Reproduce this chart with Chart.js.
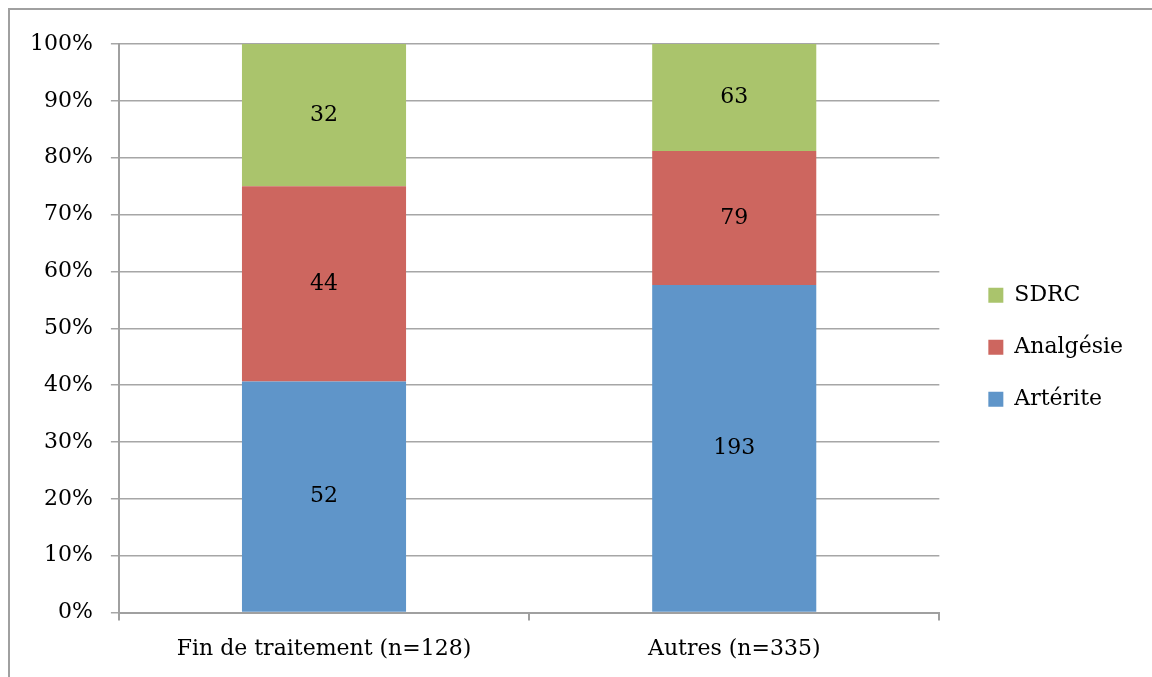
<!DOCTYPE html>
<html>
<head>
<meta charset="utf-8">
<script src="https://cdn.jsdelivr.net/npm/chart.js@4.4.1/dist/chart.umd.min.js"></script>
<style>
  html, body { margin: 0; padding: 0; background: #ffffff; overflow: hidden; }
  #wrap { position: relative; width: 1152px; height: 677px; }
  #frame { position: absolute; left: 8px; top: 8px; width: 1200px; height: 700px;
           border-left: 2px solid #a0a0a0; border-top: 2px solid #a0a0a0; box-sizing: border-box; pointer-events: none; }
  canvas { position: absolute; left: 0; top: 0; }
</style>
</head>
<body>
<div id="wrap">
  <canvas id="c" width="1152" height="677"></canvas>
  <div id="frame"></div>
</div>
<script>
const categories = ['Fin de traitement (n=128)', 'Autres (n=335)'];
const seriesNames = ['Artérite', 'Analgésie', 'SDRC'];
const arterite = [52, 193];
const analgesie = [44, 79];
const sdrc = [32, 63];
const yTickLabels = ['0%', '10%', '20%', '30%', '40%', '50%', '60%', '70%', '80%', '90%', '100%'];
const colors = ['#5f95c9', '#cd665f', '#aac46c'];

const counts = [arterite, analgesie, sdrc];
const totals = categories.map((_, i) => counts.reduce((s, arr) => s + arr[i], 0));
const pct = arr => arr.map((v, i) => v / totals[i] * 100);

const FONT = "'DejaVu Serif', serif";

const valueLabels = {
  id: 'valueLabels',
  afterDatasetsDraw(chart) {
    const ctx = chart.ctx;
    ctx.save();
    ctx.font = '22px ' + FONT;
    ctx.fillStyle = '#000000';
    ctx.textAlign = 'center';
    ctx.textBaseline = 'middle';
    chart.data.datasets.forEach((ds, di) => {
      const meta = chart.getDatasetMeta(di);
      meta.data.forEach((el, i) => {
        const y = (el.y + el.base) / 2;
        ctx.fillText(String(ds.counts[i]), el.x, y);
      });
    });
    ctx.restore();
  }
};

new Chart(document.getElementById('c'), {
  type: 'bar',
  data: {
    labels: categories,
    datasets: seriesNames.map((name, k) => ({
      label: name,
      data: pct(counts[k]),
      counts: counts[k],
      backgroundColor: colors[k],
      borderWidth: 0,
      categoryPercentage: 0.8,
      barPercentage: 0.5
    }))
  },
  options: {
    responsive: false,
    animation: false,
    devicePixelRatio: 1,
    layout: { padding: { top: 44, bottom: 0, left: 12, right: 19 } },
    plugins: {
      tooltip: { enabled: false },
      legend: {
        position: 'right',
        fullSize: false,
        reverse: true,
        title: { display: true, text: '', padding: { top: 38, bottom: 0 }, font: { size: 1, lineHeight: 0 } },
        labels: {
          boxWidth: 15,
          boxHeight: 15,
          padding: 30,
          color: '#000000',
          font: { family: FONT, size: 22 }
        }
      }
    },
    scales: {
      x: {
        stacked: true,
        offset: true,
        grid: { offset: true, drawOnChartArea: false, color: '#a0a0a0', lineWidth: 2, tickLength: 8 },
        border: { color: '#a0a0a0', width: 2 },
        ticks: { color: '#000000', font: { family: FONT, size: 22 }, padding: 15, maxRotation: 0 }
      },
      y: {
        stacked: true,
        min: 0,
        max: 100,
        grid: { color: '#a6a6a6', lineWidth: 1.5, tickLength: 8 },
        border: { color: '#a0a0a0', width: 2 },
        ticks: {
          stepSize: 10,
          color: '#000000',
          padding: 18,
          font: { family: FONT, size: 22 },
          callback: (v) => yTickLabels[Math.round(v / 10)]
        }
      },
      spacer: {
        type: 'linear',
        position: 'right',
        display: true,
        grid: { display: false },
        border: { display: false },
        ticks: { display: false },
        afterFit: (s) => { s.width = 19; }
      }
    }
  },
  plugins: [valueLabels]
});
</script>
</body>
</html>
